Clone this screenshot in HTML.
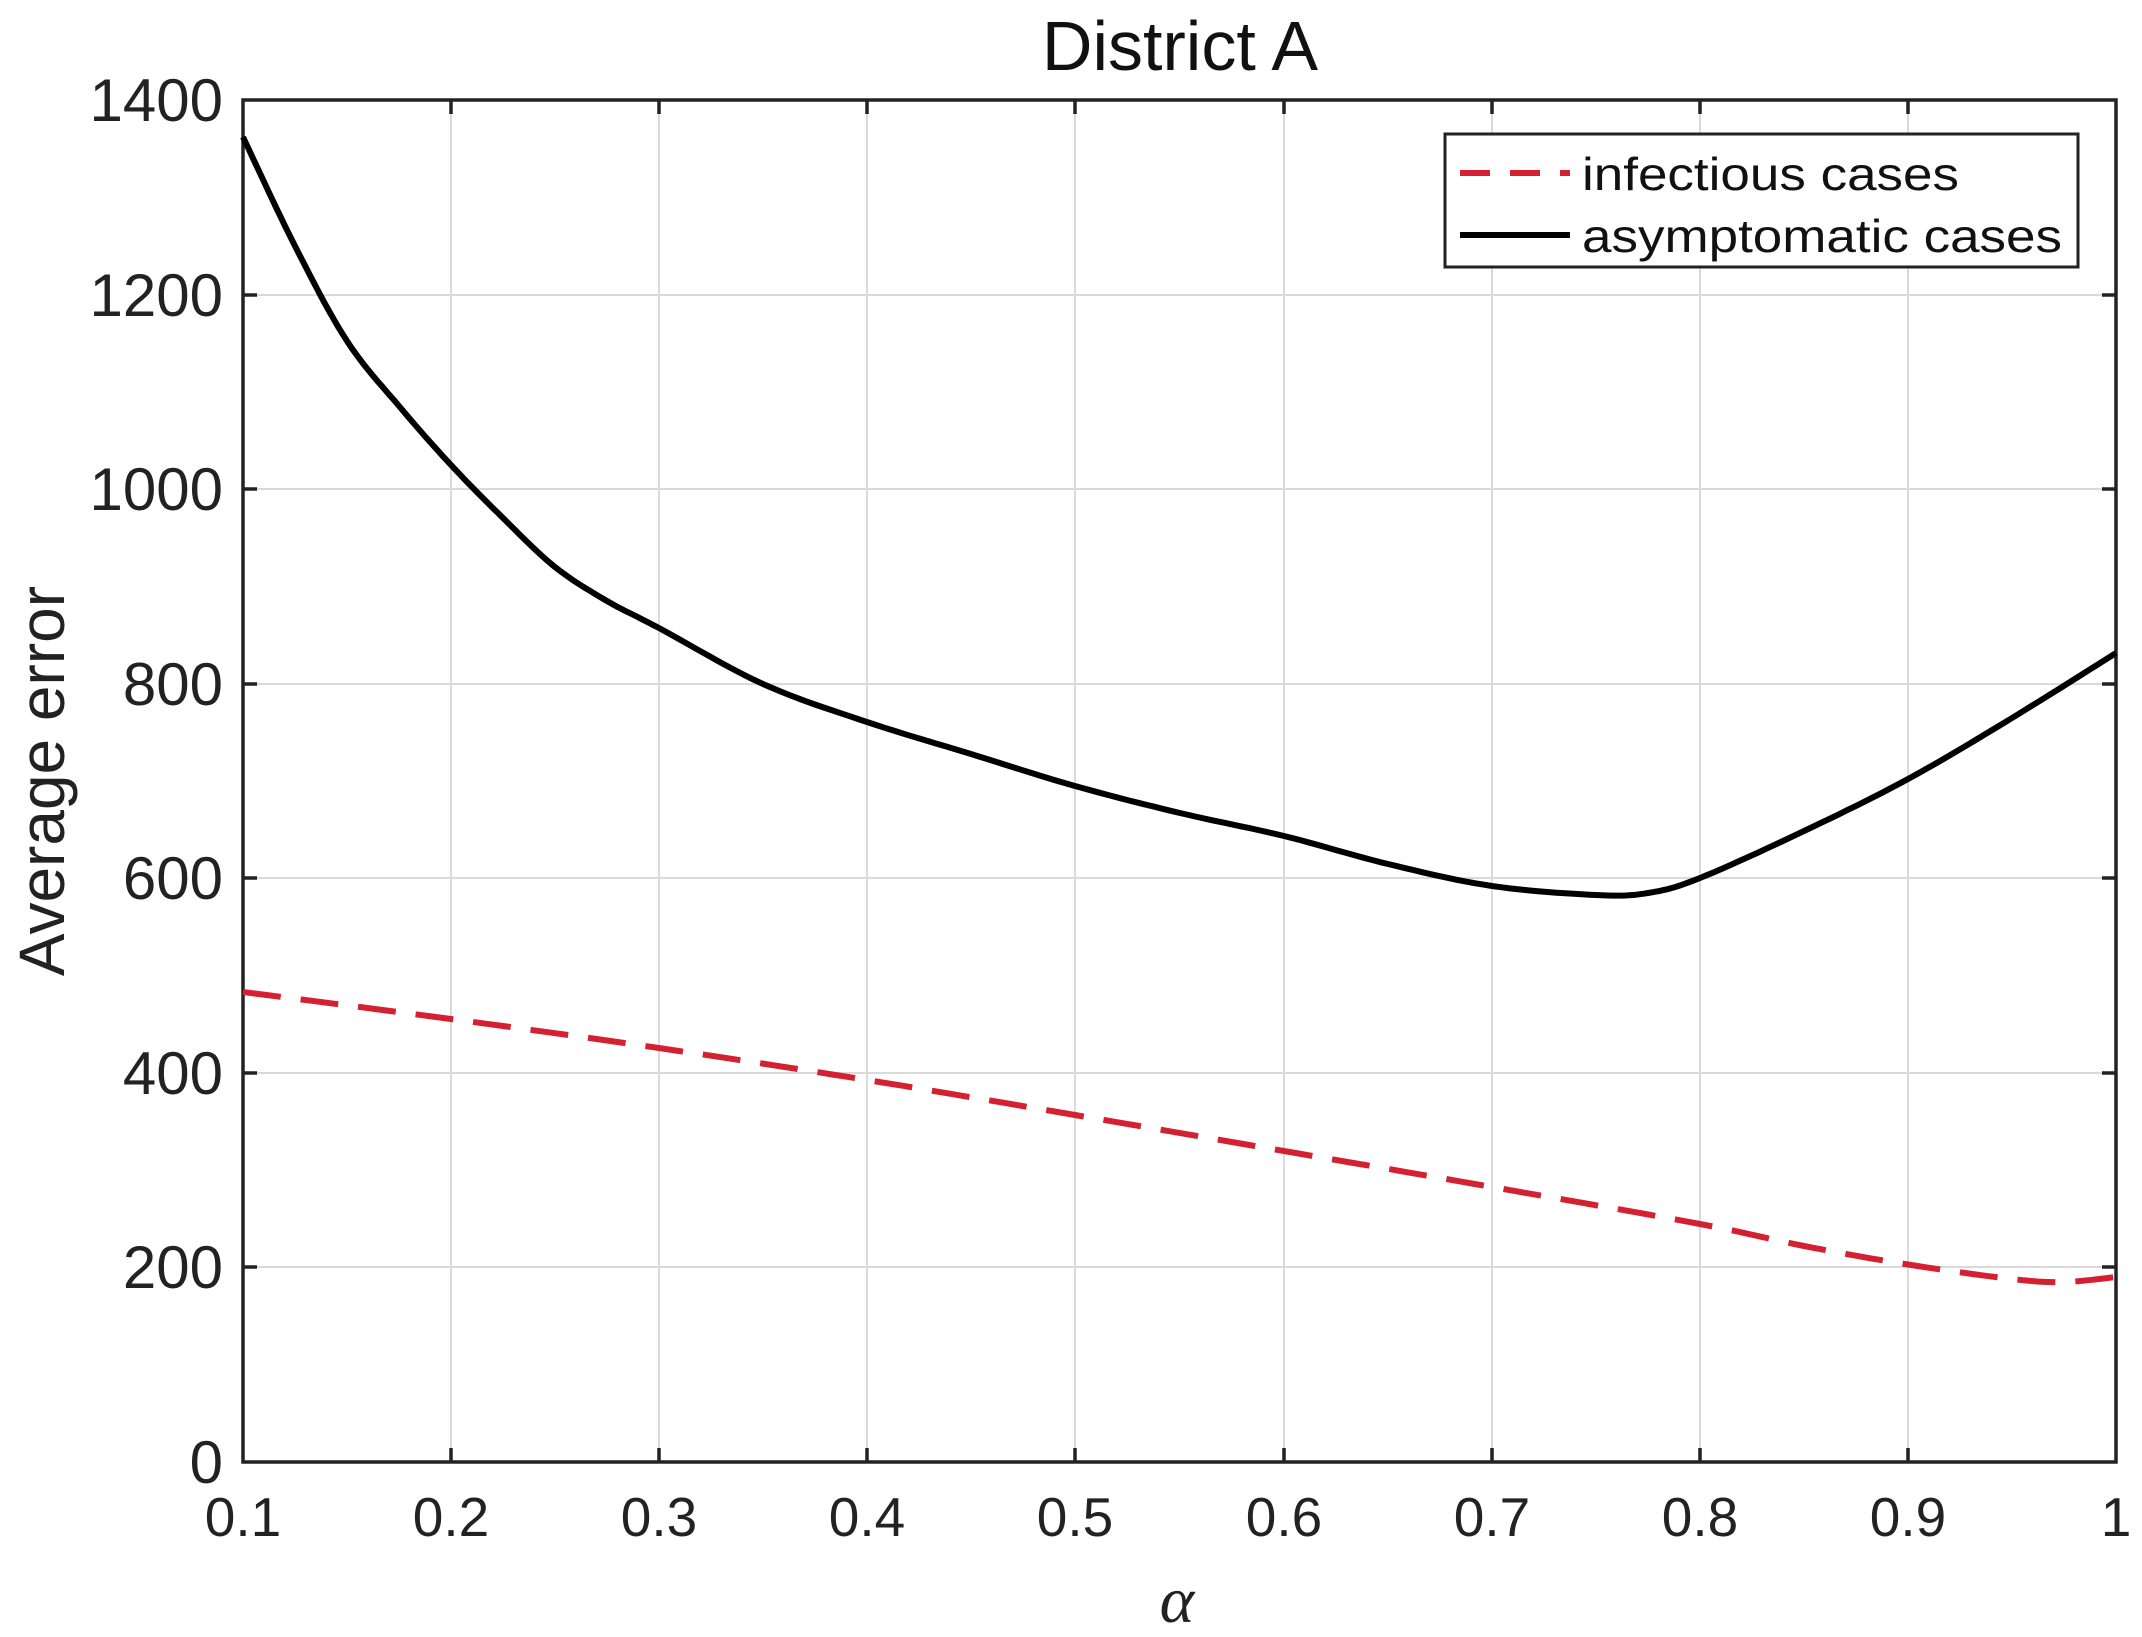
<!DOCTYPE html>
<html><head><meta charset="utf-8"><style>html,body{margin:0;padding:0;background:#fff}svg{display:block}</style></head>
<body>
<svg width="2142" height="1637" viewBox="0 0 2142 1637" xmlns="http://www.w3.org/2000/svg" font-family="Liberation Sans, sans-serif">
<rect width="2142" height="1637" fill="#fff"/>
<g stroke="#dadada" stroke-width="2">
<line x1="451" y1="100" x2="451" y2="1462"/><line x1="659" y1="100" x2="659" y2="1462"/><line x1="867" y1="100" x2="867" y2="1462"/><line x1="1075" y1="100" x2="1075" y2="1462"/><line x1="1284" y1="100" x2="1284" y2="1462"/><line x1="1492" y1="100" x2="1492" y2="1462"/><line x1="1700" y1="100" x2="1700" y2="1462"/><line x1="1908" y1="100" x2="1908" y2="1462"/>
<line x1="243" y1="1267" x2="2116" y2="1267"/><line x1="243" y1="1073" x2="2116" y2="1073"/><line x1="243" y1="878" x2="2116" y2="878"/><line x1="243" y1="684" x2="2116" y2="684"/><line x1="243" y1="489" x2="2116" y2="489"/><line x1="243" y1="295" x2="2116" y2="295"/>
</g>
<g stroke="#222" stroke-width="3.5">
<path d="M451 1462v-14M659 1462v-14M867 1462v-14M1075 1462v-14M1284 1462v-14M1492 1462v-14M1700 1462v-14M1908 1462v-14M451 100v14M659 100v14M867 100v14M1075 100v14M1284 100v14M1492 100v14M1700 100v14M1908 100v14"/>
<path d="M243 1267h14M243 1073h14M243 878h14M243 684h14M243 489h14M243 295h14M2116 1267h-14M2116 1073h-14M2116 878h-14M2116 684h-14M2116 489h-14M2116 295h-14"/>
<rect x="243" y="100" width="1873" height="1362" fill="none"/>
</g>
<polyline id="red" fill="none" stroke="#d42030" stroke-width="6" stroke-dasharray="38,20" points="243,992 451,1019 659,1048 867,1080 1075,1115 1284,1151 1492,1187 1700,1224 1804,1246 1908,1264.5 2012,1279 2064,1282 2116,1277"/>
<polyline id="blk" fill="none" stroke="#000" stroke-width="6" stroke-linejoin="round" points="243,137 295,246 347,341 399,406 451,465 503,518 555,567 607,601 659,628 763,684 867,722 971,754 1075,786 1180,813 1284,836 1388,864 1492,886 1596,895 1648,893 1700,878 1804,831 1908,779 2012,718 2116,653"/>
<g font-size="60" fill="#222" text-anchor="end">
<text x="223" y="1483">0</text><text x="223" y="1288">200</text><text x="223" y="1094">400</text><text x="223" y="899">600</text><text x="223" y="705">800</text><text x="223" y="510">1000</text><text x="223" y="316">1200</text><text x="223" y="121">1400</text>
</g>
<g font-size="55" fill="#222" text-anchor="middle">
<text x="243" y="1536">0.1</text><text x="451" y="1536">0.2</text><text x="659" y="1536">0.3</text><text x="867" y="1536">0.4</text><text x="1075" y="1536">0.5</text><text x="1284" y="1536">0.6</text><text x="1492" y="1536">0.7</text><text x="1700" y="1536">0.8</text><text x="1908" y="1536">0.9</text><text x="2116" y="1536">1</text>
</g>
<text x="1180" y="70" font-size="70" fill="#111" text-anchor="middle">District A</text>
<text transform="translate(64,781) rotate(-90)" font-size="64" fill="#222" text-anchor="middle">Average error</text>
<text x="1177" y="1622" font-size="66" fill="#222" text-anchor="middle" font-family="Liberation Serif, serif" font-style="italic">α</text>
<rect x="1445" y="134" width="633" height="133" fill="#fff" stroke="#222" stroke-width="3"/>
<line x1="1460" y1="173" x2="1570" y2="173" stroke="#d42030" stroke-width="6" stroke-dasharray="30,20"/>
<line x1="1460" y1="235" x2="1570" y2="235" stroke="#000" stroke-width="6"/>
<g font-size="46" fill="#111">
<text x="1582" y="190" textLength="377" lengthAdjust="spacingAndGlyphs">infectious cases</text>
<text x="1582" y="252" textLength="480" lengthAdjust="spacingAndGlyphs">asymptomatic cases</text>
</g>
</svg>
<script>
(function(){
function smooth(id){
 var el=document.getElementById(id);
 var p=el.getAttribute('points').trim().split(/\s+/).map(function(s){return s.split(',').map(Number);});
 var out=[];
 for(var i=0;i<p.length-1;i++){
  var p0=p[Math.max(i-1,0)],p1=p[i],p2=p[i+1],p3=p[Math.min(i+2,p.length-1)];
  for(var k=0;k<12;k++){
   var t=k/12,t2=t*t,t3=t2*t;
   var x=0.5*((2*p1[0])+(-p0[0]+p2[0])*t+(2*p0[0]-5*p1[0]+4*p2[0]-p3[0])*t2+(-p0[0]+3*p1[0]-3*p2[0]+p3[0])*t3);
   var y=0.5*((2*p1[1])+(-p0[1]+p2[1])*t+(2*p0[1]-5*p1[1]+4*p2[1]-p3[1])*t2+(-p0[1]+3*p1[1]-3*p2[1]+p3[1])*t3);
   out.push(x.toFixed(1)+','+y.toFixed(1));
  }
 }
 out.push(p[p.length-1].join(','));
 el.setAttribute('points',out.join(' '));
}
smooth('red');smooth('blk');
})();
</script>
</body></html>
